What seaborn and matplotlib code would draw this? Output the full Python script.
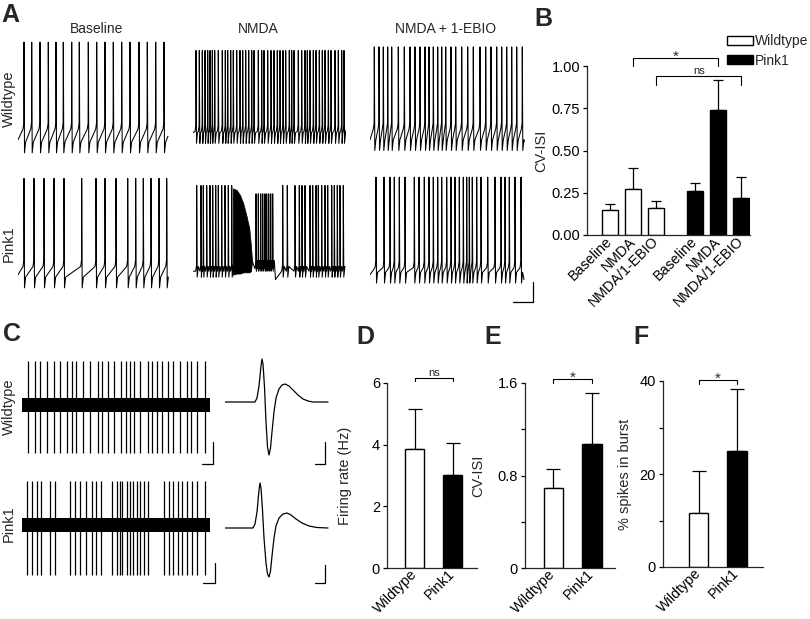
import numpy as np
import pandas as pd
import matplotlib
matplotlib.use("Agg")
import matplotlib.pyplot as plt
from matplotlib.patches import Patch
import seaborn as sns

# ---- data ----
# panel A: spike times (trace time units) and voltage levels (mV) per trace
base_wt_spikes = [6, 13.7, 22, 30.3, 38, 45.3, 53.7, 61.3, 70.3, 78.7, 87, 95.3,
                  103.7, 112, 121, 129.3, 137.7, 146]
base_pk_spikes = [6, 16, 26, 36, 46, 63.7, 78, 87, 98, 109.7, 117.7, 125.3, 133, 141, 148.7]
nmda_wt_spikes = [3, 6.3, 9.3, 12, 14.7, 17, 19.3, 21.7, 25.3, 29.3, 32.3, 34.7, 37.7, 40.3,
                  43.7, 47, 49.7, 52.7, 55.7, 58.7, 61, 65.3, 68.7, 71, 74.7, 78, 81, 84.3,
                  87, 90, 92.7, 96.3, 98.7, 101, 105.3, 108.7, 112, 114.3, 117, 120.3, 123,
                  126.3, 129.3, 132, 135.3, 138, 142, 145.3, 148.7, 151]
nmda_pk_pre = [3.7, 8, 10.3, 13.7, 17, 19.7, 22.7, 25.3, 28.7, 32, 35.3, 38.7]
nmda_pk_burst = [63, 65.3, 67.7, 69.7, 72, 73.7, 75.7, 77.7, 79.7]
nmda_pk_post = [89.7, 94.3, 102, 106.3, 109, 112, 117, 119.7, 123, 125.3, 128.7, 132,
                134.7, 138.7, 141.3, 144.3, 147, 150.3]
block_t = [39.7, 43.7, 47, 50.3, 53.7, 56.3, 58, 59]
block_top = [14.6, 13.2, 9, 2, -9.2, -19, -34.4, -45.6]
block_bot = [-58, -57, -57, -56, -56, -56, -55, -47]
ebio_wt_spikes = [4.3, 9, 13.3, 17.7, 21.7, 28.3, 34.3, 40, 45, 50, 55, 59, 63.3, 67.7,
                  71.7, 75.7, 81, 85.7, 91.7, 97.7, 103.3, 110, 115.7, 121, 126.7, 131.7,
                  136.7, 141.7, 146.7, 152.3]
ebio_pk_spikes = [6, 14, 20, 24.3, 29.3, 35, 44.3, 49, 54.3, 59, 63.3, 67.7, 71.7, 76.7,
                  81, 85, 89.3, 93.3, 96.7, 99.3, 102.3, 106.7, 111, 117.7, 125, 131, 135,
                  139.3, 145, 151]
# peak, threshold, trough (mV)
base_wt_levels = [24, -44, -69]
base_pk_levels = [23, -46, -69]
nmda_wt_levels = [17, -46, -61]
nmda_pk_levels = [17, -50, -60]
burst_levels = [10, -48, -55]
ebio_wt_levels = [20, -44, -67]
ebio_pk_levels = [24, -47, -65]

# panel C: extracellular unit spike times
unit_wt_spikes = [6.3, 13, 18, 24.7, 32.3, 38, 44.7, 49.7, 53.7, 61.3, 68, 75.7, 80.3,
                  85.7, 92.3, 99, 104, 108, 112.3, 118, 125.7, 130.3, 134.7, 139.7, 145.7,
                  151.3, 158, 164.7, 169, 174.7, 183]
unit_pk_spikes = [4.7, 9.7, 14.7, 19, 28, 33, 48, 53, 58, 63.7, 69.7, 74, 79, 89.7, 94.7,
                  98, 100.3, 104.7, 108, 111.3, 114.7, 118, 122.3, 125.7, 142.3, 147,
                  151.3, 156.3, 159.7, 164.7, 169.7, 174.7, 183]
wf_wt_t = [0, 30, 32, 34, 36, 37, 38, 39.5, 41, 42.5, 44, 45.5, 47, 49, 51, 54, 57, 60,
           64, 68, 73, 78, 83, 88, 103]
wf_wt_v = [0, 0, 4, 16, 36, 43, 38, 15, -20, -45, -53, -46, -30, -10, 4, 13, 17, 18,
           16, 12, 7, 3, 1, 0, 0]
wf_pk_t = [0, 28, 30, 32, 34, 35, 36, 37.5, 39, 41, 42.5, 44, 45.5, 47, 49, 51, 54, 58,
           62, 66, 71, 77, 84, 92, 103]
wf_pk_v = [0, 0, 4, 16, 38, 45, 40, 18, -10, -35, -46, -49, -43, -28, -10, 2, 10, 14,
           15, 13, 9, 5, 2, 0.5, 0]

# panel B
conditions = ["Baseline", "NMDA", "NMDA/1-EBIO"]
cv_wt = [0.15, 0.27, 0.16]
cv_wt_sem = [0.033, 0.124, 0.04]
cv_pk = [0.26, 0.74, 0.22]
cv_pk_sem = [0.05, 0.18, 0.125]

# panels D-F
genotypes = ["Wildtype", "Pink1"]
rate = [3.85, 3.02]
rate_sem = [1.3, 1.05]
cv_isi = [0.69, 1.07]
cv_isi_sem = [0.165, 0.445]
burst = [11.7, 24.9]
burst_sem = [8.9, 13.3]

colors = {"Wildtype": "white", "Pink1": "black"}

# ---- figure ----
sns.set_theme(style="ticks")
plt.rcParams["font.family"] = ["Liberation Sans", "DejaVu Sans"]
plt.rcParams["axes.linewidth"] = 0.9
plt.rcParams["xtick.major.width"] = 0.9
plt.rcParams["ytick.major.width"] = 0.9

W, H = 810, 619
fig = plt.figure(figsize=(W / 100, H / 100), dpi=100)


def px_axes(l, t, r, b):
    return fig.add_axes([l / W, 1 - b / H, (r - l) / W, (b - t) / H])


def ap_trace(ax, spikes, levels, t0, v0, t1, v1):
    peak, thr, trough = levels
    s = np.array(spikes, dtype=float)
    isi = np.diff(np.concatenate([[t0 - 3], s, [t1 + 3]]))
    t, v = [t0], [v0]
    for i, si in enumerate(s):
        before, after = isi[i], isi[i + 1]
        t += [si - min(1.0, 0.35 * before), si - 0.2, si,
              si + min(0.5, 0.18 * after), si + min(1.6, 0.45 * after)]
        v += [thr - 5, thr, peak, trough, trough + 9]
    t.append(t1)
    v.append(v1)
    ax.plot(t, v, color="black", lw=0.75)


def trace_axes(l, t, r, b, tmax, ylim):
    ax = px_axes(l, t, r, b)
    ax.set_xlim(0, tmax)
    ax.set_ylim(*ylim)
    ax.axis("off")
    return ax


vlim = (-75, 30)
a = trace_axes(18, 35, 170, 160, 152, vlim)
ap_trace(a, base_wt_spikes, base_wt_levels, 0, -58, 150, -55)
a = trace_axes(18, 170, 170, 295, 152, vlim)
ap_trace(a, base_pk_spikes, base_pk_levels, 0, -58, 150, -60)
a = trace_axes(193, 35, 346, 160, 153, vlim)
ap_trace(a, nmda_wt_spikes, nmda_wt_levels, 0, -52, 152, -50)
a = trace_axes(193, 170, 346, 295, 153, vlim)
ap_trace(a, nmda_pk_pre, nmda_pk_levels, 0, -55, 39.7, -50)
a.fill_between(block_t, block_bot, block_top, color="black", lw=0.5)
ap_trace(a, nmda_pk_burst, burst_levels, 59, -46, 82.5, -62)
ap_trace(a, nmda_pk_post, nmda_pk_levels, 82.5, -62, 151, -52)
a = trace_axes(370, 35, 527, 160, 157, vlim)
ap_trace(a, ebio_wt_spikes, ebio_wt_levels, 0, -58, 154, -60)
a = trace_axes(370, 170, 527, 295, 157, vlim)
ap_trace(a, ebio_pk_spikes, ebio_pk_levels, 0, -58, 154, -62)

# panel C
for top, spikes, up, down in [(350, unit_wt_spikes, 44, 48), (470, unit_pk_spikes, 44, 50)]:
    a = trace_axes(22, top, 210, top + 115, 188, (-60, 55))
    a.fill_between([0, 188], -7, 7, color="black", lw=0)
    a.vlines(spikes, -down, up, color="black", lw=0.9)
a = trace_axes(225, 350, 330, 465, 105, (-63, 52))
a.plot(wf_wt_t, wf_wt_v, color="black", lw=0.9)
a = trace_axes(225, 470, 330, 585, 105, (-57, 58))
a.plot(wf_pk_t, wf_pk_v, color="black", lw=0.9)


def bracket(ax, x1, x2, y, drop, label, fs, dy):
    ax.plot([x1, x1, x2, x2], [y - drop, y, y, y - drop], color="black", lw=0.8, clip_on=False)
    ax.annotate(label, xy=((x1 + x2) / 2, y), xytext=(0, dy), textcoords="offset points",
                ha="center", va="baseline", fontsize=fs, annotation_clip=False)


def style_bar_axes(ax):
    sns.despine(ax=ax)
    ax.tick_params(axis="y", labelsize=10.5, length=3, pad=2, colors="black")
    ax.tick_params(axis="x", labelsize=10.3, length=0, pad=3, colors="black")
    ax.set_xlabel("")
    ax.grid(False)


# panel B
pos = [0, 1, 2, 3.7, 4.7, 5.7]
df_b = pd.DataFrame({
    "pos": pos,
    "cv": cv_wt + cv_pk,
    "sem": cv_wt_sem + cv_pk_sem,
    "genotype": ["Wildtype"] * 3 + ["Pink1"] * 3,
})
axb = px_axes(587, 66, 750, 235)
sns.barplot(data=df_b, x="pos", y="cv", hue="genotype", palette=colors, native_scale=True,
            width=0.7, edgecolor="black", linewidth=1, errorbar=None, legend=False, ax=axb)
axb.errorbar(df_b["pos"], df_b["cv"], yerr=[np.zeros(6), df_b["sem"]], fmt="none",
             ecolor="black", elinewidth=0.9, capsize=3.3, capthick=0.9, zorder=0)
axb.set_xlim(-1.0, 6.07)
axb.set_ylim(0, 1.0)
axb.set_yticks([0, 0.25, 0.5, 0.75, 1.0])
axb.set_yticklabels(["0.00", "0.25", "0.50", "0.75", "1.00"])
axb.set_xticks(pos)
axb.set_xticklabels(conditions * 2, rotation=45, ha="right", va="center",
                    rotation_mode="anchor")
style_bar_axes(axb)
axb.set_ylabel("CV-ISI", fontsize=10.5)
axb.yaxis.set_label_coords(-0.235, 0.5)
bracket(axb, 1, 4.7, 1.05, 0.05, "*", 11, -2.5)
bracket(axb, 2, 5.7, 0.94, 0.055, "ns", 8, 1.5)
fig.legend(handles=[Patch(facecolor="white", edgecolor="black", label="Wildtype"),
                    Patch(facecolor="black", edgecolor="black", label="Pink1")],
           loc="upper left", bbox_to_anchor=(727 / W, 1 - 34 / H), frameon=False,
           handlelength=1.9, handleheight=0.6, labelspacing=0.4, handletextpad=0.12,
           borderpad=0, borderaxespad=0, fontsize=10)


def summary(rect, vals, sems, xlim, ylim, ticks, labels, minor, ylabel, lab_x, sig):
    ax = px_axes(*rect)
    sns.barplot(x=genotypes, y=vals, hue=genotypes, palette=colors, width=0.5,
                edgecolor="black", linewidth=1, errorbar=None, legend=False, ax=ax)
    ax.errorbar([0, 1], vals, yerr=[[0, 0], sems], fmt="none", ecolor="black",
                elinewidth=0.9, capsize=5, capthick=0.9, zorder=0)
    ax.set_xlim(*xlim)
    ax.set_ylim(*ylim)
    ax.set_yticks(ticks)
    ax.set_yticklabels(labels)
    ax.set_yticks(minor, minor=True)
    ax.tick_params(axis="y", which="minor", length=3, width=0.9, colors="black")
    ax.set_xticks([0, 1])
    ax.set_xticklabels(genotypes, rotation=45, ha="right", va="center",
                       rotation_mode="anchor")
    style_bar_axes(ax)
    ax.set_ylabel(ylabel, fontsize=10.5)
    ax.yaxis.set_label_coords(lab_x, 0.5)
    bracket(ax, 0, 1, *sig)
    return ax


summary((387, 383, 477, 568), rate, rate_sem, (-0.73, 1.64), (0, 6), [0, 2, 4, 6],
        ["0", "2", "4", "6"], [], "Firing rate (Hz)", -0.39, (6.16, 0.11, "ns", 8, 1.5))
summary((525, 383, 615, 568), cv_isi, cv_isi_sem, (-0.74, 1.6), (0, 1.6), [0, 0.8, 1.6],
        ["0", "0.8", "1.6"], [0.4, 1.2], "CV-ISI", -0.44, (1.637, 0.037, "*", 11, -2.5))
summary((663, 381, 763, 567), burst, burst_sem, (-0.93, 1.68), (0, 40), [0, 20, 40],
        ["0", "20", "40"], [10, 30], "% spikes in burst", -0.31, (40.3, 0.9, "*", 11, -2.5))

# overlay: panel letters, titles, row labels, scale bars
ov = fig.add_axes([0, 0, 1, 1])
ov.set_xlim(0, W)
ov.set_ylim(H, 0)
ov.axis("off")
for letter, x, y in [("A", 10, 15), ("B", 543, 19), ("C", 12, 334), ("D", 365, 337),
                     ("E", 493, 337), ("F", 641, 337)]:
    ov.text(x, y, letter, fontsize=18, fontweight="bold", ha="center", va="center")
for title, x in [("Baseline", 97), ("NMDA", 258), ("NMDA + 1-EBIO", 446)]:
    ov.text(x, 29, title, fontsize=10, ha="center", va="center")
for name, x, y in [("Wildtype", 9, 99), ("Pink1", 9, 244), ("Wildtype", 9, 407),
                   ("Pink1", 9, 524)]:
    ov.text(x, y, name, fontsize=10.5, rotation=90, ha="center", va="center")
for x, y0, y1, w in [(533, 282, 302, 20), (213, 442, 464, 11), (215, 563, 583, 12),
                     (325, 442, 464, 10), (325, 565, 583, 10)]:
    ov.plot([x, x, x - w], [y0, y1, y1], color="black", lw=0.9)

fig.savefig("out.png", dpi=100)
